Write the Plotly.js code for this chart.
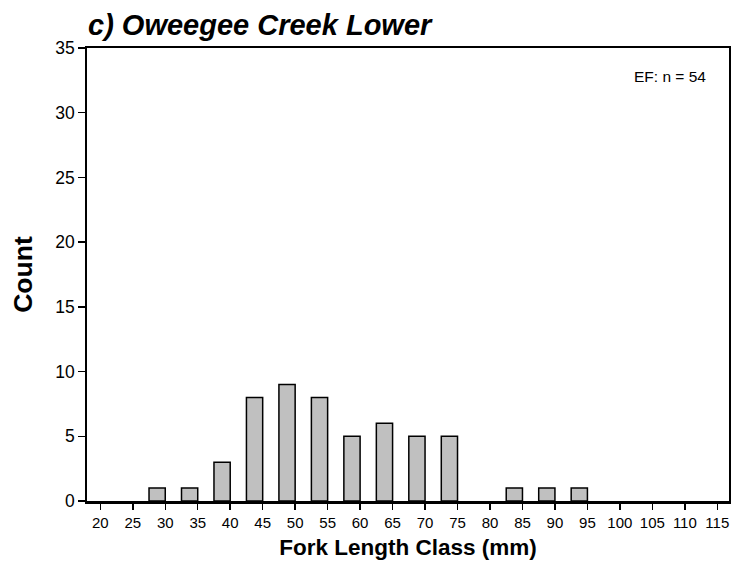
<!DOCTYPE html>
<html>
<head>
<meta charset="utf-8">
<script src="https://cdn.plot.ly/plotly-3.0.1.min.js"></script>
<style>html,body{margin:0;padding:0;background:#fff;}#chart{width:732px;height:567px;}</style>
</head>
<body>
<div id="chart"></div>
<script>
// Fork length classes (mm) and fish counts
const lengthClasses = [20, 25, 30, 35, 40, 45, 50, 55, 60, 65, 70, 75, 80, 85, 90, 95, 100, 105, 110, 115];
const counts        = [0, 0, 1, 1, 3, 8, 9, 8, 5, 6, 5, 5, 0, 1, 1, 1, 0, 0, 0, 0];
const tickLabels    = ["20","25","30","35","40","45","50","55","60","65","70","75","80","85","90","95","100","105","110","115"];
const chartTitle = "c) Oweegee Creek Lower";
const sampleNote = "EF: n = 54";

const sans = "Liberation Sans, Arial, sans-serif";

const trace = {
  type: "bar",
  x: lengthClasses,
  y: counts,
  width: 2.5,
  offset: -2.5,
  marker: {
    color: "#c0c0c0",
    line: { color: "#000", width: counts.map(v => v > 0 ? 1.5 : 0) }
  },
  hoverinfo: "x+y"
};

const layout = {
  width: 732, height: 567,
  margin: { l: 87, r: 3, t: 48, b: 66 },
  paper_bgcolor: "#fff", plot_bgcolor: "#fff",
  showlegend: false,
  bargap: 0,
  title: {
    text: "<b><i>" + chartTitle + "</i></b>",
    font: { family: sans, size: 29, color: "#000" },
    x: 88/732, xref: "container", xanchor: "left",
    y: 1 - 25/567, yref: "container", yanchor: "middle"
  },
  xaxis: {
    range: [17.95, 116.8],
    tickmode: "array", tickvals: lengthClasses, ticktext: tickLabels,
    ticks: "outside", ticklen: 6, tickwidth: 1.5, tickcolor: "#000",
    showline: true, linecolor: "#000", linewidth: 2.5, mirror: true,
    showgrid: false, zeroline: false,
    tickfont: { family: sans, size: 15, color: "#000" },
    title: { text: "<b>Fork Length Class (mm)</b>", font: { family: sans, size: 22.5, color: "#000" }, standoff: 10 },
    automargin: false
  },
  yaxis: {
    range: [0, 35], dtick: 5, tick0: 0,
    ticks: "outside", ticklen: 7, tickwidth: 1.5, tickcolor: "#000",
    showline: true, linecolor: "#000", linewidth: 1.8, mirror: true,
    showgrid: false, zeroline: false,
    tickfont: { family: sans, size: 17.5, color: "#000" },
    title: { text: "<b>Count</b>", font: { family: sans, size: 26.5, color: "#000" }, standoff: 15 },
    automargin: false
  },
  annotations: [{
    text: sampleNote, xref: "paper", yref: "paper",
    x: 0.967, y: 0.936, xanchor: "right", yanchor: "middle",
    showarrow: false, font: { family: sans, size: 15.5, color: "#000" }
  }]
};

Plotly.newPlot("chart", [trace], layout, { displayModeBar: false, staticPlot: true });
</script>
</body>
</html>
